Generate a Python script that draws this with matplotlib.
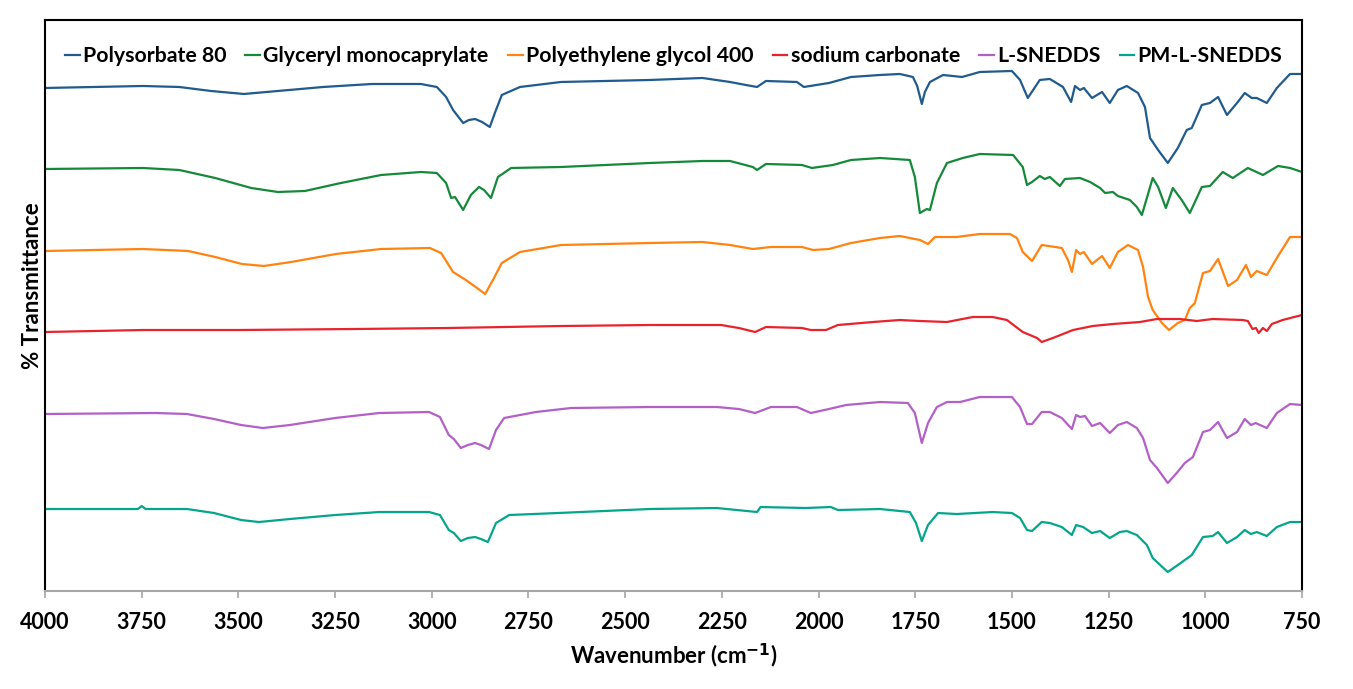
import numpy as np
import matplotlib
matplotlib.use('Agg')
import matplotlib.pyplot as plt

plt.rcParams['font.family'] = ['Lato', 'DejaVu Sans']
plt.rcParams['font.weight'] = 'bold'

# FTIR spectra (wavenumber cm-1, offset transmittance)
wn_tween80 = [4000, 3747, 3653, 3571, 3486, 3398, 3281, 3155, 3028, 2987, 2963, 2945, 2919, 2904, 2888, 2870, 2850, 2837, 2819, 2772,
              2666, 2436, 2300, 2229, 2188, 2159, 2136, 2056, 2038, 1973, 1916, 1841, 1790, 1756, 1745, 1733, 1725, 1712, 1678, 1629,
              1583, 1500, 1479, 1459, 1428, 1402, 1368, 1347, 1337, 1324, 1314, 1293, 1267, 1247, 1226, 1203, 1174, 1156, 1143, 1122,
              1097, 1071, 1048, 1035, 1009, 988, 967, 944, 918, 898, 880, 867, 841, 815, 781, 750]
t_tween80 = [512, 514, 513, 509, 506, 509, 513, 516, 516, 513, 503, 490, 477, 480, 481, 478, 473, 487, 505, 513,
             518, 520, 522, 518, 515, 513, 519, 518, 513, 517, 523, 525, 526, 523, 514, 496, 508, 518, 525, 523,
             528, 529, 520, 502, 520, 521, 513, 498, 514, 510, 512, 502, 508, 497, 510, 514, 507, 493, 462, 450,
             437, 452, 470, 472, 495, 497, 503, 485, 497, 507, 502, 502, 497, 512, 526, 526]

wn_capryol = [4000, 3747, 3653, 3560, 3467, 3398, 3328, 3235, 3131, 3028, 2987, 2963, 2950, 2940, 2919, 2899, 2878, 2865, 2847, 2829,
              2795, 2666, 2436, 2300, 2229, 2170, 2159, 2136, 2043, 2017, 1963, 1916, 1841, 1764, 1751, 1738, 1720, 1712, 1694, 1668,
              1627, 1583, 1497, 1472, 1461, 1448, 1428, 1415, 1402, 1376, 1363, 1324, 1298, 1272, 1259, 1239, 1226, 1195, 1177, 1164,
              1136, 1122, 1102, 1084, 1061, 1040, 1009, 988, 955, 929, 890, 851, 812, 781, 750]
t_capryol = [431, 432, 430, 422, 412, 408, 409, 417, 425, 428, 427, 417, 402, 403, 390, 405, 413, 410, 402, 423,
             432, 433, 437, 439, 439, 433, 430, 436, 435, 432, 435, 440, 442, 440, 423, 387, 391, 390, 417, 437,
             442, 446, 445, 433, 415, 418, 424, 421, 423, 414, 421, 422, 418, 412, 407, 408, 404, 400, 393, 385,
             422, 413, 392, 412, 400, 387, 413, 414, 428, 422, 432, 425, 434, 432, 428]

wn_peg400 = [4000, 3747, 3630, 3560, 3491, 3434, 3364, 3248, 3131, 3005, 2976, 2945, 2912, 2883, 2862, 2842, 2819, 2772, 2666, 2436,
             2300, 2229, 2170, 2123, 2043, 2014, 1973, 1916, 1841, 1790, 1738, 1717, 1699, 1643, 1583, 1505, 1487, 1472, 1448, 1423,
             1371, 1355, 1345, 1334, 1324, 1314, 1293, 1267, 1247, 1226, 1200, 1174, 1161, 1148, 1136, 1112, 1094, 1071, 1053, 1040,
             1027, 1006, 988, 967, 941, 918, 895, 882, 867, 841, 815, 781, 750]
t_peg400 = [349, 351, 349, 343, 336, 334, 338, 346, 351, 352, 347, 328, 320, 312, 306, 320, 337, 348, 355, 357,
            358, 355, 351, 353, 353, 350, 351, 357, 362, 364, 360, 356, 363, 363, 366, 366, 362, 348, 339, 355,
            352, 340, 328, 350, 346, 348, 336, 344, 332, 348, 355, 350, 333, 303, 290, 277, 270, 277, 280, 292,
            297, 327, 329, 341, 314, 320, 335, 323, 329, 325, 342, 363, 363]

wn_na2co3 = [4000, 3747, 3500, 3200, 2958, 2666, 2436, 2252, 2206, 2164, 2136, 2043, 2020, 1981, 1950, 1859, 1790, 1738, 1668, 1601,
             1550, 1513, 1472, 1435, 1423, 1394, 1342, 1291, 1239, 1169, 1125, 1066, 1022, 981, 903, 890, 878, 869, 862, 851,
             841, 828, 800, 750]
t_na2co3 = [268, 270, 270, 271, 272, 274, 275, 275, 272, 268, 273, 272, 270, 270, 275, 278, 280, 279, 278, 283,
            283, 280, 268, 262, 258, 262, 270, 274, 276, 278, 281, 281, 279, 281, 280, 279, 271, 272, 267, 272,
            269, 276, 280, 285]

wn_lsnedds = [4000, 3713, 3633, 3563, 3493, 3437, 3367, 3250, 3136, 3007, 2979, 2956, 2943, 2925, 2907, 2888, 2873, 2852, 2834, 2813,
              2731, 2640, 2436, 2263, 2206, 2164, 2123, 2056, 2020, 1973, 1929, 1841, 1769, 1751, 1733, 1717, 1694, 1668, 1634, 1583,
              1500, 1479, 1461, 1448, 1423, 1402, 1371, 1345, 1334, 1324, 1311, 1293, 1272, 1247, 1226, 1203, 1177, 1161, 1143, 1125,
              1097, 1074, 1053, 1032, 1006, 988, 967, 944, 918, 898, 882, 870, 841, 815, 781, 750]
t_lsnedds = [186, 187, 186, 181, 175, 172, 175, 182, 187, 188, 183, 165, 161, 152, 155, 157, 155, 151, 170, 182,
             188, 192, 193, 193, 191, 187, 193, 193, 187, 191, 195, 198, 197, 187, 157, 177, 193, 198, 198, 203,
             203, 193, 176, 176, 188, 188, 182, 171, 185, 183, 184, 174, 177, 167, 175, 178, 172, 162, 140, 132,
             117, 127, 137, 143, 168, 170, 178, 162, 168, 181, 175, 177, 172, 187, 196, 195]

wn_pmlsnedds = [4000, 3760, 3750, 3740, 3633, 3563, 3493, 3447, 3367, 3250, 3136, 3007, 2979, 2956, 2943, 2925, 2907, 2888, 2873, 2855,
                2834, 2800, 2674, 2436, 2263, 2159, 2150, 2033, 1968, 1950, 1841, 1764, 1748, 1733, 1717, 1691, 1643, 1550, 1500, 1479,
                1461, 1448, 1423, 1402, 1371, 1345, 1334, 1316, 1293, 1272, 1247, 1221, 1203, 1177, 1151, 1136, 1097, 1071, 1035, 1006,
                981, 967, 944, 918, 898, 882, 867, 841, 815, 781, 750]
t_pmlsnedds = [91, 91, 94, 91, 91, 87, 80, 78, 81, 85, 88, 88, 85, 70, 67, 59, 62, 63, 61, 58,
               77, 85, 87, 91, 92, 88, 93, 92, 93, 90, 91, 88, 77, 59, 75, 87, 86, 88, 87, 82,
               70, 69, 78, 77, 73, 65, 75, 73, 67, 69, 62, 68, 69, 65, 55, 42, 28, 35, 45, 63,
               64, 68, 57, 63, 70, 66, 68, 64, 73, 78, 78]

labels = ['Polysorbate 80', 'Glyceryl monocaprylate', 'Polyethylene glycol 400',
          'sodium carbonate', 'L-SNEDDS', 'PM-L-SNEDDS']
colors = ['#1f5b8e', '#15893a', '#ff8311', '#e8232b', '#b35fc8', '#05a58c']
series = [(wn_tween80, t_tween80), (wn_capryol, t_capryol), (wn_peg400, t_peg400),
          (wn_na2co3, t_na2co3), (wn_lsnedds, t_lsnedds), (wn_pmlsnedds, t_pmlsnedds)]

fig = plt.figure(figsize=(13.53, 6.89), dpi=100)
ax = fig.add_axes([0.0333, 0.1422, 0.9290, 0.8288])

for (x, y), lab, c in zip(series, labels, colors):
    ax.plot(x, y, color=c, lw=1.6, label=lab)

ax.set_xlim(4000, 750)
ax.set_ylim(9, 580)
ax.set_xticks(np.arange(4000, 749, -250))
ax.set_yticks([])
ax.tick_params(axis='x', colors='#a6a6a6', length=5, width=1.2, labelsize=15.5, labelcolor='black', pad=10)
for side in ['left', 'top', 'right']:
    ax.spines[side].set_color('black')
    ax.spines[side].set_linewidth(1.5)
ax.spines['bottom'].set_color('#a6a6a6')
ax.spines['bottom'].set_linewidth(1.5)

ax.set_xlabel('Wavenumber (cm$^{\\mathbf{-1}}$)', fontsize=16, fontweight='bold', labelpad=6)
ax.set_ylabel('% Transmittance', fontsize=16, fontweight='bold')
ax.yaxis.set_label_coords(-0.002, 0.535)

ax.legend(loc='center', bbox_to_anchor=(0.5, 0.937), ncol=6, frameon=False, fontsize=15.3,
          handlelength=0.7, handletextpad=0.15, columnspacing=0.9)

fig.savefig('out.png', dpi=100)
